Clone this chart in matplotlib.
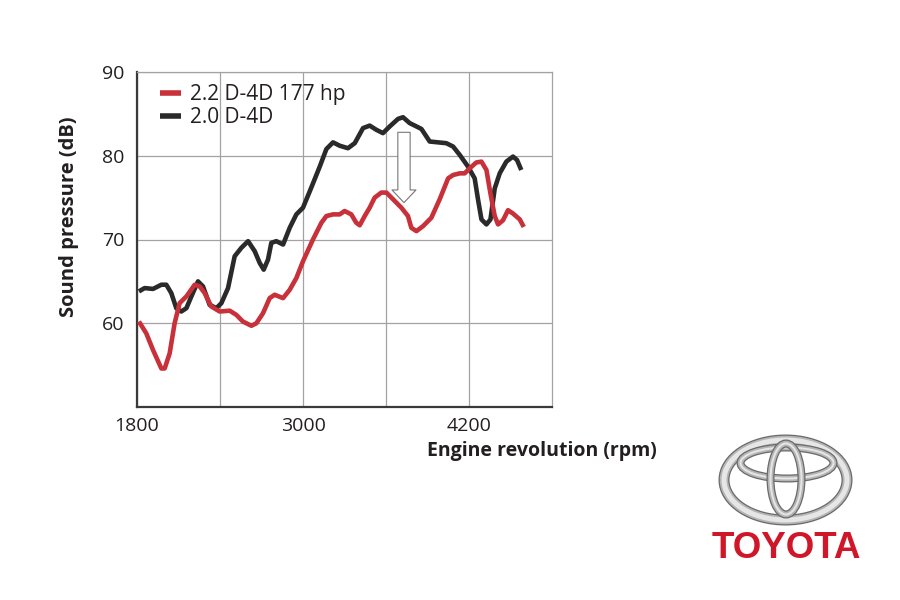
import matplotlib
matplotlib.use("Agg")
import matplotlib.pyplot as plt
from matplotlib.patches import Ellipse

plt.rcParams['font.family'] = ['Open Sans', 'DejaVu Sans']

# ---- data ----
red_label = "2.2 D-4D 177 hp"
black_label = "2.0 D-4D"

red_rpm = [1814, 1867, 1916, 1976, 2000, 2036, 2072, 2108, 2157, 2217, 2253, 2289,
           2337, 2398, 2470, 2518, 2566, 2627, 2663, 2711, 2759, 2795, 2856, 2904,
           2952, 3000, 3072, 3133, 3169, 3217, 3265, 3301, 3349, 3385, 3410, 3446,
           3482, 3518, 3566, 3603, 3651, 3711, 3759, 3783, 3820, 3868, 3928, 3988,
           4049, 4085, 4133, 4169, 4205, 4253, 4290, 4326, 4355, 4386, 4410, 4446,
           4482, 4518, 4567, 4596]
red_db = [60.2, 58.8, 56.8, 54.6, 54.6, 56.4, 60.0, 62.4, 63.2, 64.6, 64.4, 63.6,
          62.0, 61.4, 61.5, 61.0, 60.2, 59.7, 60.0, 61.2, 63.0, 63.4, 63.0, 64.0,
          65.4, 67.4, 70.0, 72.0, 72.8, 73.0, 73.0, 73.4, 73.0, 72.0, 71.7, 72.8,
          73.8, 75.0, 75.6, 75.6, 74.8, 73.8, 72.8, 71.4, 71.0, 71.6, 72.6, 74.8,
          77.3, 77.7, 77.9, 77.9, 78.5, 79.2, 79.3, 78.3, 75.5, 72.8, 71.8, 72.3,
          73.5, 73.1, 72.4, 71.5]

black_rpm = [1814, 1855, 1916, 1976, 2012, 2048, 2084, 2120, 2157, 2193, 2241, 2277,
             2325, 2374, 2410, 2458, 2506, 2554, 2603, 2651, 2687, 2716, 2747, 2771,
             2807, 2856, 2904, 2952, 3000, 3060, 3121, 3169, 3217, 3265, 3325, 3374,
             3434, 3482, 3530, 3578, 3627, 3687, 3723, 3771, 3820, 3856, 3916, 3976,
             4036, 4085, 4133, 4193, 4241, 4266, 4290, 4326, 4355, 4386, 4422, 4470,
             4518, 4547, 4578]
black_db = [63.8, 64.2, 64.1, 64.6, 64.6, 63.6, 61.8, 61.4, 61.8, 63.2, 65.0, 64.4,
            62.2, 61.8, 62.4, 64.2, 68.0, 69.0, 69.8, 68.6, 67.2, 66.4, 67.6, 69.6,
            69.8, 69.4, 71.4, 73.0, 73.8, 76.2, 78.7, 80.8, 81.6, 81.2, 80.9, 81.5,
            83.3, 83.6, 83.1, 82.7, 83.5, 84.4, 84.6, 83.9, 83.5, 83.2, 81.7, 81.6,
            81.5, 81.1, 80.1, 78.7, 77.3, 74.7, 72.4, 71.8, 72.4, 76.1, 77.9, 79.3,
            79.9, 79.5, 78.3]

x_ticks = [1800, 3000, 4200]
x_grid = [2400, 3600]
y_ticks = [60, 70, 80, 90]

# ---- figure ----
fig = plt.figure(figsize=(9, 6), dpi=100)
fig.patch.set_facecolor('white')
W, H = 900, 600
ax = fig.add_axes([137 / W, 1 - 407 / H, 415 / W, 335 / H])

grid_c = '#a3a3a3'
txt_c = '#231f20'
ax.set_xlim(1800, 4800)
ax.set_ylim(50, 90)
ax.set_xticks(x_ticks)
ax.set_xticks(x_grid, minor=True)
ax.set_yticks(y_ticks)
ax.grid(True, which='both', color=grid_c, lw=0.9)
ax.set_axisbelow(True)
ax.tick_params(which='both', length=0, labelsize=14, colors=txt_c, pad=7)
ax.tick_params(axis='y', pad=9)
for s in ['top', 'right']:
    ax.spines[s].set_color(grid_c)
    ax.spines[s].set_linewidth(0.9)
for s in ['left', 'bottom']:
    ax.spines[s].set_color('#3a3a3a')
    ax.spines[s].set_linewidth(1.6)

red_c = '#c8303a'
blk_c = '#2a2a2a'
ax.plot(black_rpm, black_db, color=blk_c, lw=3.3, solid_joinstyle='round',
        solid_capstyle='butt', label=black_label, zorder=3)
ax.plot(red_rpm, red_db, color=red_c, lw=3.3, solid_joinstyle='round',
        solid_capstyle='butt', label=red_label, zorder=4)

h, l = ax.get_legend_handles_labels()
leg = ax.legend([h[1], h[0]], [l[1], l[0]], loc='upper left',
                bbox_to_anchor=(23 / 415, 1 - 12 / 335), borderaxespad=0,
                borderpad=0, frameon=False, fontsize=15, handlelength=1.0,
                handletextpad=0.45, labelspacing=0.1)
for t in leg.get_texts():
    t.set_color(txt_c)
for ln in leg.get_lines():
    ln.set_linewidth(4)

# down arrow
ax.annotate('', xy=(3730, 74.4), xytext=(3730, 82.8),
            arrowprops=dict(arrowstyle=f"simple,head_length={12.7*0.72},head_width={24*0.72},tail_width={12.3*0.72}",
                            mutation_scale=1, fc='white', ec='#777777', lw=0.8,
                            shrinkA=0, shrinkB=0), zorder=5)

fig.text(69 / W, 1 - 217 / H, 'Sound pressure (dB)', rotation=90, ha='center',
         va='center', fontsize=14.5, fontweight='bold', color=txt_c)
fig.text(657 / W, 1 - 451 / H, 'Engine revolution (rpm)', ha='right',
         va='center', fontsize=14, fontweight='bold', color=txt_c)

# ---- Toyota logo ----
lax = fig.add_axes([0, 0, 1, 1])
lax.set_xlim(0, W)
lax.set_ylim(H, 0)
lax.axis('off')
lax.patch.set_alpha(0)

def ring(cx, cy, w, h, thick_px):
    pt = 0.72
    lax.add_patch(Ellipse((cx, cy), w, h, fill=False, ec='#6a6a6a', lw=thick_px * pt))
    lax.add_patch(Ellipse((cx, cy), w, h, fill=False, ec='#b5b5b5', lw=(thick_px - 2.5) * pt))
    lax.add_patch(Ellipse((cx, cy), w, h, fill=False, ec='#e6e6e6', lw=(thick_px - 6) * pt))

ring(785.5, 480, 123, 80, 11)
ring(787, 463, 93, 31, 8)
ring(786, 479, 31, 71, 8)

fig.text(786 / W, 1 - 549 / H, 'TOYOTA', ha='center', va='center', fontsize=26.5,
         fontweight='bold', color='#d0172a', family=['Liberation Sans', 'DejaVu Sans'])

fig.savefig('out.png', dpi=100, facecolor='white')
